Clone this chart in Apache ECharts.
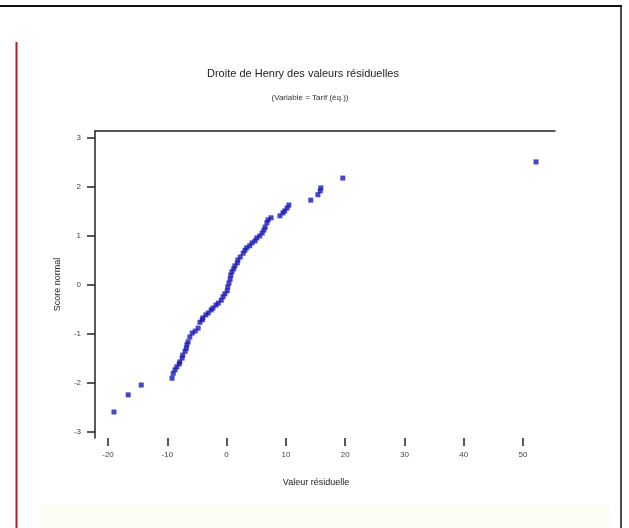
<!DOCTYPE html>
<html>
<head>
<meta charset="utf-8">
<script src="https://cdn.jsdelivr.net/npm/echarts@6/dist/echarts.min.js"></script>
<style>html,body{margin:0;padding:0;background:#fff}#c{width:629px;height:528px}</style>
</head>
<body>
<div id="c"></div>
<script>
const titleText = 'Droite de Henry des valeurs résiduelles';
const subtitleText = '(Variable = Tarif (éq.))';
const xName = 'Valeur résiduelle';
const yName = 'Score normal';
const xTicks = [-20, -10, 0, 10, 20, 30, 40, 50];
const yTicks = [-3, -2, -1, 0, 1, 2, 3];
const residuals = [-19.0,-16.6,-14.4,-9.2,-9.0,-8.7,-8.4,-8.0,-7.9,-7.5,-7.4,-7.0,-6.8,-6.7,-6.5,-6.2,-5.8,-5.3,-4.8,-4.5,-4.1,-4.0,-3.5,-3.1,-2.6,-2.3,-1.8,-1.4,-0.9,-0.6,-0.3,0.1,0.2,0.4,0.6,0.7,0.9,1.2,1.4,1.8,1.9,2.3,2.8,3.1,3.4,3.9,4.3,4.8,5.1,5.6,6.0,6.3,6.5,6.8,7.0,7.5,9.0,9.5,9.8,10.2,10.5,14.2,15.4,15.8,15.9,19.6,52.2];
const normalScores = [-2.59,-2.24,-2.04,-1.90,-1.80,-1.73,-1.67,-1.61,-1.57,-1.49,-1.43,-1.35,-1.29,-1.22,-1.16,-1.06,-0.98,-0.94,-0.88,-0.76,-0.71,-0.67,-0.61,-0.57,-0.51,-0.47,-0.41,-0.37,-0.31,-0.24,-0.18,-0.12,-0.04,0.04,0.12,0.20,0.27,0.33,0.39,0.45,0.51,0.57,0.65,0.71,0.76,0.80,0.86,0.90,0.96,1.00,1.06,1.12,1.18,1.27,1.33,1.37,1.41,1.47,1.51,1.57,1.63,1.73,1.84,1.92,1.98,2.18,2.51];

const points = residuals.map((r, i) => [r, normalScores[i]]);
const chart = echarts.init(document.getElementById('c'), null, {renderer: 'canvas'});
const font = 'Liberation Sans';
chart.setOption({
  backgroundColor: '#fff',
  animation: false,
  title: [
    {text: titleText, left: 298, top: 63, textAlign: 'center',
     textStyle: {fontFamily: font, fontSize: 11, fontWeight: 'normal', color: '#222'}},
    {text: subtitleText, left: 305, top: 89, textAlign: 'center',
     textStyle: {fontFamily: font, fontSize: 8, fontWeight: 'normal', color: '#333'}}
  ],
  grid: {left: 95, right: 74, top: 131, bottom: 90},
  xAxis: [{
    type: 'value', position: 'bottom', min: -22.2, max: 55.4,
    axisLine: {show: false, onZero: false},
    axisTick: {show: true, length: 8, customValues: xTicks, lineStyle: {color: '#222', width: 1.5}},
    axisLabel: {customValues: xTicks, fontSize: 8, color: '#444', margin: 13, fontFamily: font},
    splitLine: {show: false},
    name: xName, nameLocation: 'middle', nameGap: 40,
    nameTextStyle: {fontFamily: font, fontSize: 9, color: '#222', padding: [0, 18, 0, 0]}
  }, {
    type: 'value', position: 'top', min: -22.2, max: 55.4,
    axisLine: {show: true, onZero: false, lineStyle: {color: '#222', width: 1.5}},
    axisTick: {show: false}, axisLabel: {show: false}, splitLine: {show: false}
  }],
  yAxis: {
    type: 'value', min: -3.12, max: 3.14, position: 'left',
    axisLine: {show: true, onZero: false, lineStyle: {color: '#222', width: 1.5}},
    axisTick: {show: true, length: 8, customValues: yTicks, lineStyle: {color: '#222', width: 1.5}},
    axisLabel: {customValues: yTicks, fontSize: 8, color: '#444', margin: 14, fontFamily: font},
    splitLine: {show: false},
    name: yName, nameLocation: 'middle', nameGap: 33,
    nameTextStyle: {fontFamily: font, fontSize: 9, color: '#222'}
  },
  series: [{
    type: 'scatter', xAxisIndex: 0, data: points,
    symbol: 'rect', symbolSize: 5,
    itemStyle: {color: '#1818b8'}
  }],
  graphic: [
    {type: 'rect', shape: {x: 40, y: 505, width: 570, height: 23}, style: {fill: '#fdfdf4'}, silent: true, z: -1},
    {type: 'line', shape: {x1: 0, y1: 6, x2: 622, y2: 6}, style: {stroke: '#111', lineWidth: 2}},
    {type: 'line', shape: {x1: 621, y1: 6, x2: 621, y2: 528}, style: {stroke: '#111', lineWidth: 1.5}},
    {type: 'line', shape: {x1: 16.5, y1: 42, x2: 16.5, y2: 528}, style: {stroke: '#b0202a', lineWidth: 2}}
  ]
});
</script>
</body>
</html>
